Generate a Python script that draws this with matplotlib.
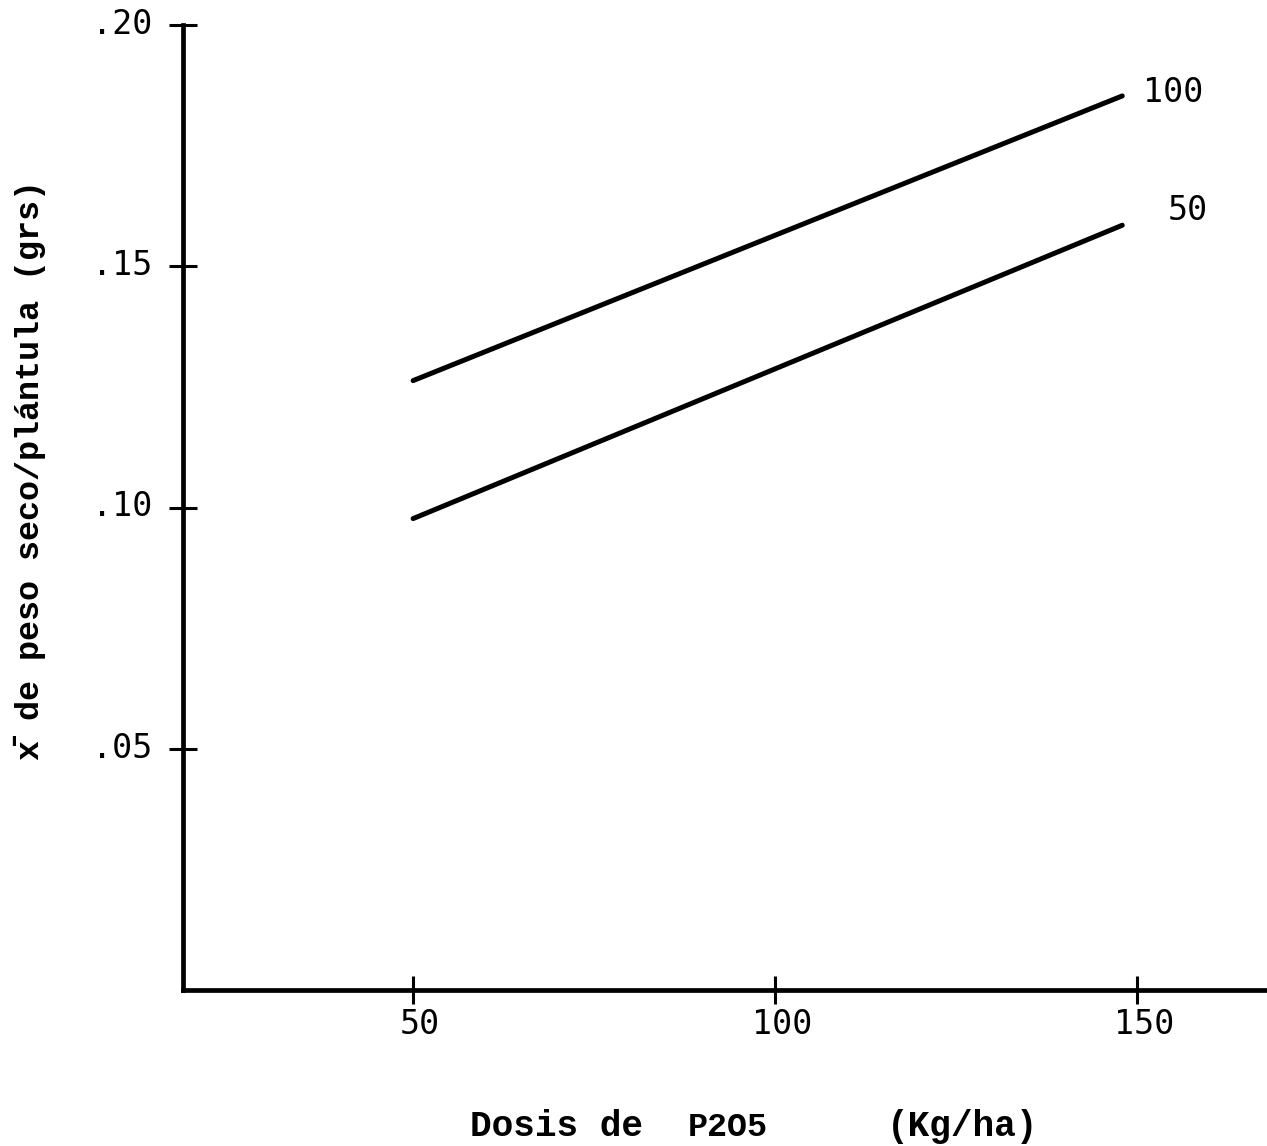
#!/usr/bin/env python3

import matplotlib
matplotlib.use('Agg')
import matplotlib.pyplot as plt
import matplotlib.transforms as mtransforms

# P2O5 doses (Kg/ha) and mean dry weight per seedling (grs)
dosis = [50, 148]
peso_100 = [0.1263, 0.1853]
peso_50 = [0.0977, 0.1585]
series_labels = ['100', '50']

x_ticks = [50, 100, 150]
x_tick_labels = ['50', '100', '150']
y_ticks = [0.05, 0.10, 0.15, 0.20]
y_tick_labels = ['.05', '.10', '.15', '.20']

tick_font = {'family': ['DejaVu Sans Mono'], 'size': 24}
label_font = {'family': ['Liberation Mono', 'DejaVu Sans Mono'], 'size': 26, 'weight': 'bold'}


def px(fig, x, y):
    # pixel position (from top-left) to figure fraction
    w, h = fig.get_size_inches() * fig.dpi
    return x / w, 1 - y / h


def main():
    fig = plt.figure(figsize=(12.67, 11.46), dpi=100)
    ax = fig.add_axes([183 / 1267, 156 / 1146, 1 - 183 / 1267, 965 / 1146])

    ax.plot(dosis, peso_100, '-', color='black', lw=3.6, solid_capstyle='round')
    ax.plot(dosis, peso_50, '-', color='black', lw=3.6, solid_capstyle='round')
    ax.text(dosis[-1] + 2.8, peso_100[-1] + 0.0008, series_labels[0], ha='left', va='center', **tick_font)
    ax.text(dosis[-1] + 6.3, peso_50[-1] + 0.003, series_labels[1], ha='left', va='center', **tick_font)

    ax.set_xlim(18.2, 168)
    ax.set_ylim(0, 0.20)
    ax.spines['top'].set_visible(False)
    ax.spines['right'].set_visible(False)
    for side in ('left', 'bottom'):
        ax.spines[side].set_linewidth(3.4)
        ax.spines[side].set_capstyle('projecting')

    ax.set_xticks(x_ticks)
    ax.set_xticklabels(x_tick_labels, **tick_font)
    ax.set_yticks(y_ticks)
    ax.set_yticklabels(y_tick_labels, **tick_font)
    ax.tick_params(axis='both', direction='inout', length=20, width=2.2, color='black')
    ax.tick_params(axis='x', pad=3)
    ax.tick_params(axis='y', pad=12)
    lift = mtransforms.ScaledTranslation(0, 3 / 72, fig.dpi_scale_trans)
    for lab in ax.get_yticklabels():
        lab.set_transform(lab.get_transform() + lift)
    shift = mtransforms.ScaledTranslation(5 / 72, 0, fig.dpi_scale_trans)
    for lab in ax.get_xticklabels():
        lab.set_transform(lab.get_transform() + shift)

    # y axis title
    fig.text(*px(fig, 30, 470), 'x\u0304 de peso seco/plántula (grs)',
             rotation=90, ha='center', va='center',
             family=label_font['family'], size=24, weight='bold')

    # x axis title; the formula is typed narrower than the rest
    base = 1127
    fig.text(*px(fig, 470, base), 'Dosis de', ha='left', va='center', **label_font)
    fig.text(*px(fig, 688, base + 1), 'P2O5', ha='left', va='center',
             family=label_font['family'], size=24, weight='bold')
    fig.text(*px(fig, 963, base), '(Kg/ha)', ha='center', va='center', **label_font)

    fig.savefig('out.png', dpi=100)


if __name__ == '__main__':
    main()
